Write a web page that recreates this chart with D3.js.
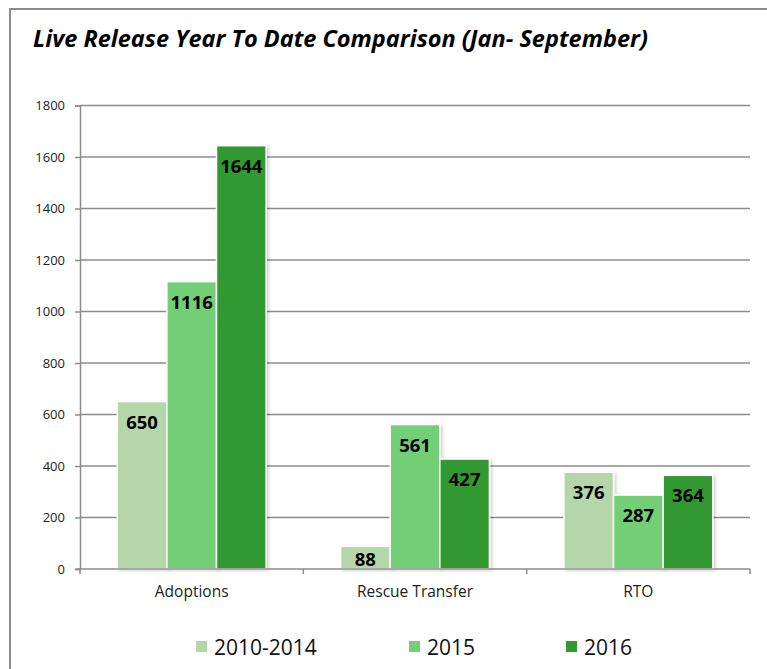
<!DOCTYPE html>
<html>
<head>
<style>
  body { margin: 0; background: #fff; }
  svg { display: block; font-family: 'Open Sans', sans-serif; }
</style>
</head>
<body>
<script src="https://d3js.org/d3.v7.min.js"></script>
<svg id="chart" width="767" height="669"></svg>
<script>
  const categories = ['Adoptions', 'Rescue Transfer', 'RTO'];
  const series = ['2010-2014', '2015', '2016'];
  const values2010_2014 = [650, 88, 376];
  const values2015 = [1116, 561, 287];
  const values2016 = [1644, 427, 364];
  const yTicks = [0, 200, 400, 600, 800, 1000, 1200, 1400, 1600, 1800];

  const colors = {'2010-2014': '#b5d6a9', '2015': '#72cf74', '2016': '#339933'};
  const valuesBySeries = {'2010-2014': values2010_2014, '2015': values2015, '2016': values2016};

  const data = [];
  categories.forEach((c, i) => {
    series.forEach(s => data.push({cat: c, series: s, value: valuesBySeries[s][i]}));
  });

  const svg = d3.select('#chart');
  const plot = {left: 80, right: 750, top: 105.5, bottom: 569};

  // drop shadow for bars
  const defs = svg.append('defs');
  const f = defs.append('filter').attr('id', 'shadow').attr('x', '-20%').attr('y', '-10%')
    .attr('width', '150%').attr('height', '130%');
  f.append('feDropShadow').attr('dx', 2).attr('dy', 1).attr('stdDeviation', 1.5)
    .attr('flood-color', '#000').attr('flood-opacity', 0.18);

  // outer frame
  svg.append('path')
    .attr('d', 'M10,669 L10,9 L767,9')
    .attr('fill', 'none').attr('stroke', '#8a8a8a').attr('stroke-width', 2);

  // title
  svg.append('text')
    .attr('x', 33).attr('y', 47)
    .attr('font-size', '23.5px').attr('font-weight', 'bold').attr('font-style', 'italic')
    .attr('fill', '#000')
    .text('Live Release Year To Date Comparison (Jan- September)');

  const x0 = d3.scaleBand().domain(categories).range([plot.left, plot.right]).padding(0);
  const x1 = d3.scaleBand().domain(series).range([0, x0.bandwidth()])
    .paddingInner(0).paddingOuter(0.75);
  const y = d3.scaleLinear().domain([0, 1800]).range([plot.bottom, plot.top]);

  // gridlines
  svg.append('g').selectAll('line').data(yTicks.filter(d => d > 0)).enter().append('line')
    .attr('x1', plot.left).attr('x2', plot.right)
    .attr('y1', d => y(d)).attr('y2', d => y(d))
    .attr('stroke', '#8c8c8c').attr('stroke-width', 1.5);

  // y axis
  const yAxis = svg.append('g').attr('transform', `translate(${plot.left},0)`)
    .call(d3.axisLeft(y).tickValues(yTicks).tickFormat(d3.format('d')).tickSize(5).tickPadding(10));
  yAxis.select('.domain').attr('stroke', '#8c8c8c').attr('stroke-width', 1.5);
  yAxis.selectAll('.tick line').attr('stroke', '#8c8c8c').attr('stroke-width', 1.5);
  yAxis.selectAll('.tick text').attr('font-size', '13px').attr('fill', '#222')
    .attr('font-family', "'Open Sans', sans-serif");

  // bars
  svg.append('g').selectAll('rect').data(data).enter().append('rect')
    .attr('x', d => x0(d.cat) + x1(d.series))
    .attr('y', d => y(d.value))
    .attr('width', x1.bandwidth())
    .attr('height', d => plot.bottom - y(d.value))
    .attr('fill', d => colors[d.series])
    .attr('stroke', '#fff').attr('stroke-width', 1.5)
    .attr('filter', 'url(#shadow)');

  // x axis
  const xAxis = svg.append('g').attr('transform', `translate(0,${plot.bottom})`)
    .call(d3.axisBottom(x0).tickSize(0).tickPadding(17));
  xAxis.select('.domain').remove();
  xAxis.selectAll('.tick text').attr('font-size', '15.5px').attr('fill', '#222')
    .attr('font-family', "'Open Sans', sans-serif");
  svg.append('line').attr('x1', plot.left - 4).attr('x2', plot.right)
    .attr('y1', plot.bottom).attr('y2', plot.bottom)
    .attr('stroke', '#8c8c8c').attr('stroke-width', 1.5);
  const catEdges = categories.map(c => x0(c)).concat([plot.right]);
  svg.append('g').selectAll('line').data(catEdges).enter().append('line')
    .attr('x1', d => d).attr('x2', d => d)
    .attr('y1', plot.bottom).attr('y2', plot.bottom + 5)
    .attr('stroke', '#8c8c8c').attr('stroke-width', 1.5);

  // value labels
  svg.append('g').selectAll('text').data(data).enter().append('text')
    .attr('x', d => x0(d.cat) + x1(d.series) + x1.bandwidth() / 2)
    .attr('y', d => Math.min(y(d.value) + 27, plot.bottom - 3))
    .attr('text-anchor', 'middle')
    .attr('font-size', '18.5px').attr('font-weight', 'bold').attr('fill', '#000')
    .text(d => d.value);

  // legend
  const legendX = [196, 409, 566];
  const legend = svg.append('g').selectAll('g').data(series).enter().append('g')
    .attr('transform', (d, i) => `translate(${legendX[i]},641)`);
  legend.append('rect').attr('width', 11).attr('height', 11).attr('fill', d => colors[d]);
  legend.append('text').attr('x', 18).attr('y', 13.5)
    .attr('font-size', '21px').attr('fill', '#111').text(d => d);
</script>
</body>
</html>
